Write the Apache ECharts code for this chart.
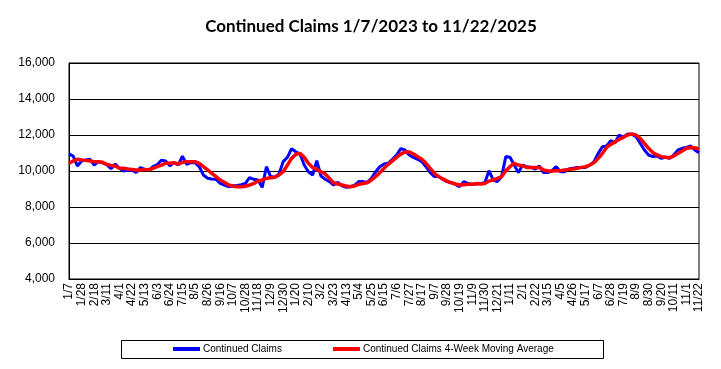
<!DOCTYPE html>
<html>
<head>
<meta charset="utf-8">
<script src="https://cdn.jsdelivr.net/npm/echarts@6/dist/echarts.min.js"></script>
<style>html,body{margin:0;padding:0;background:#fff}#c{width:721px;height:369px}</style>
</head>
<body>
<div id="c"></div>
<script>
const weeks = [
"1/7","1/14","1/21","1/28","2/4","2/11","2/18","2/25","3/4","3/11","3/18","3/25","4/1","4/8","4/15","4/22","4/29","5/6","5/13","5/20","5/27","6/3","6/10","6/17","6/24","7/1","7/8","7/15","7/22","7/29","8/5","8/12","8/19","8/26","9/2","9/9","9/16","9/23","9/30","10/7","10/14","10/21","10/28","11/4","11/11","11/18","11/25","12/2","12/9","12/16","12/23","12/30",
"1/6","1/13","1/20","1/27","2/3","2/10","2/17","2/24","3/2","3/9","3/16","3/23","3/30","4/6","4/13","4/20","4/27","5/4","5/11","5/18","5/25","6/1","6/8","6/15","6/22","6/29","7/6","7/13","7/20","7/27","8/3","8/10","8/17","8/24","8/31","9/7","9/14","9/21","9/28","10/5","10/12","10/19","10/26","11/2","11/9","11/16","11/23","11/30","12/7","12/14","12/21","12/28",
"1/4","1/11","1/18","1/25","2/1","2/8","2/15","2/22","3/1","3/8","3/15","3/22","3/29","4/5","4/12","4/19","4/26","5/3","5/10","5/17","5/24","5/31","6/7","6/14","6/21","6/28","7/5","7/12","7/19","7/26","8/2","8/9","8/16","8/23","8/30","9/6","9/13","9/20","9/27","10/4","10/11","10/18","10/25","11/1","11/8","11/15","11/22"
];
const continuedClaims = [
10950,10830,10280,10560,10610,10650,10330,10520,10450,10350,10130,10390,10150,10000,10050,10050,9920,10190,10090,10050,
10240,10350,10600,10560,10290,10460,10330,10830,10370,10460,10460,10240,9780,9600,9560,9540,9310,9220,9130,9180,
9200,9240,9310,9630,9540,9500,9090,10240,9690,9650,9830,10520,10760,11240,11070,10940,10330,9960,9780,10570,
9720,9540,9410,9220,9370,9170,9090,9130,9220,9410,9410,9370,9590,9960,10240,10390,10430,10650,10890,11240,
11170,10890,10760,10650,10520,10240,9910,9690,9690,9540,9410,9350,9260,9130,9410,9300,9260,9280,9310,9350,
10020,9500,9410,9690,10800,10760,10330,9910,10330,10240,10200,10110,10280,9910,9910,10020,10240,9960,9960,10110,
10150,10190,10200,10200,10330,10520,10980,11350,11390,11690,11570,12000,11870,12060,12040,11910,11540,11170,10890,10800,
10830,10700,10760,10700,10890,11170,11260,11310,11390,11170,11020
];
const movingAverage4Wk = [
10430,10560,10650,10610,10590,10560,10520,10510,10480,10370,10310,10280,10150,10150,10110,10090,10060,10060,10090,10070,
10150,10240,10330,10430,10430,10460,10390,10480,10520,10520,10520,10430,10240,10060,9870,9690,9500,9370,9220,9170,
9130,9130,9150,9220,9310,9440,9500,9590,9630,9650,9780,9960,10330,10700,10930,10980,10760,10430,10200,10090,
9960,9830,9590,9350,9280,9220,9170,9130,9170,9260,9310,9350,9500,9690,9910,10150,10370,10560,10760,10940,
11060,11060,10940,10800,10650,10430,10150,9870,9690,9560,9440,9350,9280,9220,9240,9260,9260,9300,9280,9310,
9440,9500,9590,9690,10020,10240,10430,10330,10280,10200,10200,10200,10200,10060,10000,10000,10020,10020,10060,10090,
10110,10150,10200,10240,10330,10460,10700,10980,11310,11480,11610,11760,11870,12000,12060,12000,11810,11540,11260,11020,
10890,10800,10760,10740,10830,10980,11110,11260,11310,11290,11220
];
const yMin = 4000, yMax = 16000, yStep = 2000;

const chart = echarts.init(document.getElementById('c'), null, {renderer:'canvas'});
chart.setOption({
  animation: false,
  backgroundColor: '#fff',
  title: {
    text: 'Continued Claims 1/7/2023 to 11/22/2025',
    left: 366, top: 13, textAlign: 'center',
    textStyle: {fontFamily: 'Lato', fontWeight: 'bold', fontSize: 17, color: '#000'}
  },
  grid: {left: 69, right: 22, top: 63, bottom: 90, show: true, borderColor: '#000', borderWidth: 1, containLabel: false},
  legend: {
    left: 173, top: 344, padding: 0, itemWidth: 27, itemHeight: 4, itemGap: 51,
    icon: 'rect',
    textStyle: {fontFamily: 'Liberation Sans', fontSize: 10, color: '#000', padding: [0,0,0,-2]},
    data: ['Continued Claims', 'Continued Claims 4-Week Moving Average']
  },
  graphic: [{type: 'rect', shape: {x: 121.5, y: 340.5, width: 482, height: 18}, style: {fill: 'none', stroke: '#000', lineWidth: 1}, silent: true}],
  xAxis: {
    type: 'category', data: weeks, boundaryGap: false,
    axisLine: {lineStyle: {color: '#000', width: 1}},
    axisTick: {show: false},
    axisLabel: {interval: 2, rotate: 90, margin: 4, fontFamily: 'Liberation Sans', fontSize: 12, color: '#000'}
  },
  yAxis: {
    type: 'value', min: yMin, max: yMax, interval: yStep,
    axisLine: {show: true, lineStyle: {color: '#000', width: 1}},
    axisTick: {show: false},
    splitLine: {lineStyle: {color: '#000', width: 1}},
    axisLabel: {margin: 14, fontFamily: 'Liberation Sans', fontSize: 12, color: '#000',
      formatter: v => v.toLocaleString('en-US')}
  },
  series: [
    {name: 'Continued Claims', type: 'line', data: continuedClaims, showSymbol: false, symbol: 'none',
     itemStyle: {color: '#0000FF'}, lineStyle: {color: '#0000FF', width: 3}},
    {name: 'Continued Claims 4-Week Moving Average', type: 'line', data: movingAverage4Wk, showSymbol: false, symbol: 'none',
     itemStyle: {color: '#FF0000'}, lineStyle: {color: '#FF0000', width: 3.5}}
  ]
});
</script>
</body>
</html>
